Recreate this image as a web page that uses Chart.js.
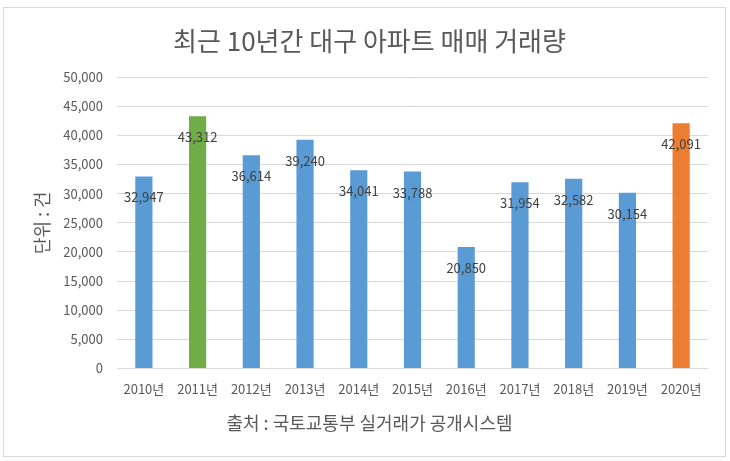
<!DOCTYPE html>
<html>
<head>
<meta charset="utf-8">
<script src="https://cdn.jsdelivr.net/npm/chart.js@4/dist/chart.umd.min.js"></script>
<style>
    html, body { margin: 0; padding: 0; background: #fff; }
    #wrap { position: relative; width: 730px; height: 461px; }
    #frame { position: absolute; left: 3px; top: 7px; width: 721px; height: 448px; border: 1px solid #d9d9d9; pointer-events: none; }
</style>
</head>
<body>
<div id="wrap">
    <canvas id="myChart" width="730" height="461"></canvas>
    <div id="frame"></div>
</div>
<script>
const years = ['2010년', '2011년', '2012년', '2013년', '2014년', '2015년', '2016년', '2017년', '2018년', '2019년', '2020년'];
const trades = [32947, 43312, 36614, 39240, 34041, 33788, 20850, 31954, 32582, 30154, 42091];
const barColors = ['#5B9BD5', '#70AD47', '#5B9BD5', '#5B9BD5', '#5B9BD5', '#5B9BD5', '#5B9BD5', '#5B9BD5', '#5B9BD5', '#5B9BD5', '#ED7D31'];

const FONT = "'Noto Sans CJK KR', 'Noto Sans', sans-serif";
const TEXT = '#595959';

// value labels sit just inside the top of each bar
const valueLabels = {
    id: 'valueLabels',
    afterDatasetsDraw(chart) {
        const ctx = chart.ctx;
        const meta = chart.getDatasetMeta(0);
        ctx.save();
        ctx.font = '13px ' + FONT;
        ctx.fillStyle = '#404040';
        ctx.textAlign = 'center';
        ctx.textBaseline = 'middle';
        meta.data.forEach((bar, i) => {
            ctx.fillText(trades[i].toLocaleString('en-US'), bar.x, bar.y + 21);
        });
        ctx.restore();
    }
};

const ctx = document.getElementById('myChart').getContext('2d');
const myChart = new Chart(ctx, {
    type: 'bar',
    data: {
        labels: years,
        datasets: [{
            label: '거래량',
            data: trades,
            backgroundColor: barColors,
            borderWidth: 0,
            barPercentage: 0.32,
            categoryPercentage: 1
        }]
    },
    options: {
        responsive: false,
        animation: false,
        layout: {
            padding: { left: 31, right: 22, top: 26, bottom: 27 }
        },
        plugins: {
            legend: { display: false },
            tooltip: { enabled: false },
            title: {
                display: true,
                text: '최근 10년간 대구 아파트 매매 거래량',
                color: TEXT,
                font: { family: FONT, size: 26, weight: 'normal' },
                padding: { top: 0, bottom: 20 }
            },
            // source line under the axis
            subtitle: {
                display: true,
                position: 'bottom',
                text: '출처 : 국토교통부 실거래가 공개시스템',
                color: TEXT,
                font: { family: FONT, size: 18, weight: 'normal' },
                padding: { top: 8, bottom: 0 }
            }
        },
        scales: {
            x: {
                grid: { display: false, drawTicks: false },
                border: { display: false },
                afterFit: scale => { scale.height = 36; },
                ticks: {
                    color: TEXT,
                    padding: 13,
                    font: { family: FONT, size: 13 }
                }
            },
            y: {
                min: 0,
                max: 50000,
                grid: { color: '#d9d9d9', drawTicks: false },
                border: { display: false },
                afterFit: scale => { scale.width = 86; },
                ticks: {
                    stepSize: 5000,
                    color: TEXT,
                    padding: 14,
                    font: { family: FONT, size: 13 },
                    callback: value => value.toLocaleString('en-US')
                },
                title: {
                    display: true,
                    text: '단위 : 건',
                    color: TEXT,
                    font: { family: FONT, size: 18 },
                    padding: { top: 0, bottom: 0 }
                }
            }
        }
    },
    plugins: [valueLabels]
});
</script>
</body>
</html>
